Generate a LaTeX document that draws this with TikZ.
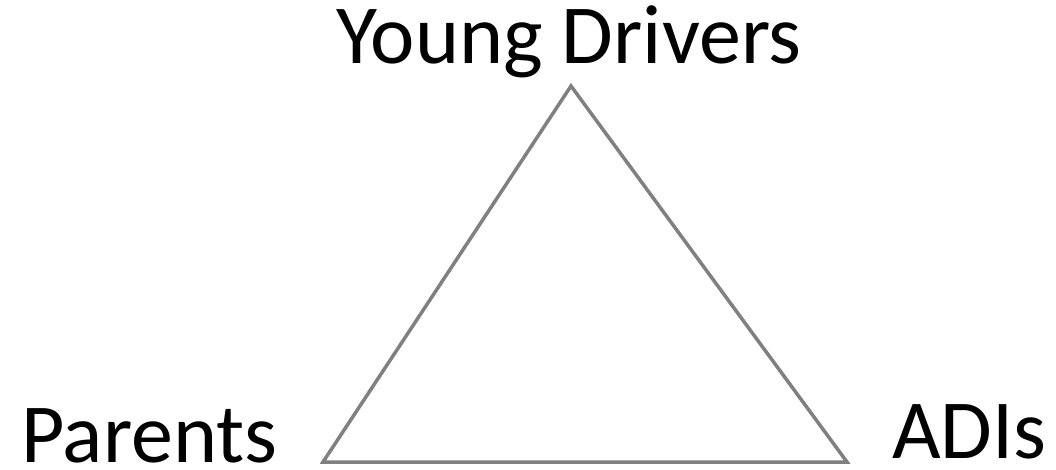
\documentclass[tikz,border=0pt]{standalone}
\usepackage{fontspec}
\setmainfont{Carlito}
\begin{document}
\begin{tikzpicture}[x=1pt,y=-1pt,
  lbl/.style={inner sep=0pt,font=\fontsize{84}{86}\selectfont,text=black},
  edge/.style={draw=black!50,line width=3.5pt,line join=miter}]
\useasboundingbox (0,0) rectangle (1056,470);
\coordinate (top) at (571,86);
\coordinate (bl) at (323,462);
\coordinate (br) at (847,462);
\node[lbl,anchor=base] (yd) at (569,64) {Young Drivers};
\node[lbl,anchor=base west] (par) at (21,462) {Parents};
\node[lbl,anchor=base west] (adi) at (892,458) {ADIs};
\draw[edge] (top) -- (bl) -- (br) -- cycle;
\end{tikzpicture}
\end{document}
